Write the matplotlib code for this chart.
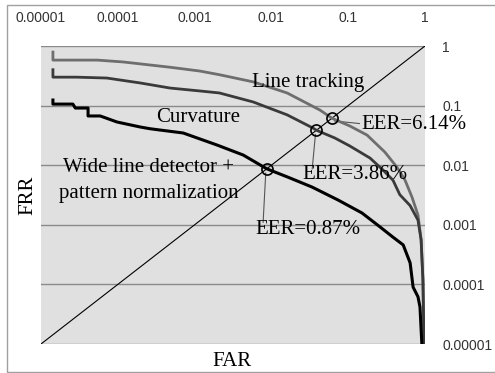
import matplotlib
matplotlib.use("Agg")
import matplotlib.pyplot as plt
from matplotlib.patches import Rectangle

# ROC curves (FAR, FRR)
lt_far = [1.43e-5, 1.43e-5, 5.4e-5, 1.17e-4, 4.8e-4, 1.17e-3, 2.1e-3, 5.8e-3, 0.016, 0.043,
          0.0614, 0.105, 0.176, 0.30, 0.43, 0.55, 0.678, 0.81, 0.89, 0.94, 0.97]
lt_frr = [0.79, 0.58, 0.58, 0.54, 0.44, 0.38, 0.33, 0.25, 0.163, 0.084,
          0.0614, 0.0455, 0.032, 0.0166, 0.0093, 0.0056, 0.0029, 0.00146, 0.00056, 0.000119, 1e-5]

cv_far = [1.43e-5, 1.43e-5, 2.9e-5, 7.2e-5, 1.95e-4, 4.8e-4, 1.17e-3, 2.1e-3, 5.8e-3, 0.016,
          0.0348, 0.0386, 0.067, 0.105, 0.192, 0.284, 0.383, 0.47, 0.64, 0.81, 0.89, 0.94, 0.97]
cv_frr = [0.40, 0.30, 0.30, 0.29, 0.24, 0.197, 0.176, 0.163, 0.115, 0.070,
          0.042, 0.0386, 0.0286, 0.021, 0.0132, 0.0083, 0.0056, 0.0032, 0.0021, 0.0012, 0.00056,
          0.000119, 1e-5]

wl_far = [1.43e-5, 1.43e-5, 2.6e-5, 2.8e-5, 4.1e-5, 4.1e-5, 5.9e-5, 9.8e-5, 1.95e-4, 2.6e-4,
          3.5e-4, 7.1e-4, 1.96e-3, 4.3e-3, 0.0087, 0.0164, 0.0338, 0.074, 0.151, 0.26, 0.383,
          0.52, 0.64, 0.70, 0.81, 0.86, 0.91]
wl_frr = [0.124, 0.106, 0.106, 0.091, 0.091, 0.067, 0.067, 0.053, 0.0438, 0.041,
          0.039, 0.0347, 0.0218, 0.0148, 0.0087, 0.0063, 0.0043, 0.0026, 0.00158, 0.00092, 0.00062,
          0.00046, 0.00023, 9.0e-5, 6.2e-5, 4.2e-5, 1e-5]

eer_vals = [0.0614, 0.0386, 0.0087]
eer_text = ["EER=6.14%", "EER=3.86%", "EER=0.87%"]
decades = [1e-5, 1e-4, 1e-3, 1e-2, 1e-1, 1]
decade_labels = ["0.00001", "0.0001", "0.001", "0.01", "0.1", "1"]

fig = plt.figure(figsize=(4.95, 3.73), dpi=100)
fig.patches.append(Rectangle((7 / 495, 1 / 373), 1.0, 367 / 373, transform=fig.transFigure,
                             fill=False, edgecolor="#a0a0a0", linewidth=1.0))
ax = fig.add_axes([41 / 495, 1 - 344 / 373, 384 / 495, 298 / 373])
ax.set_facecolor("#e0e0e0")
ax.set_xscale("log")
ax.set_yscale("log")
ax.set_xlim(1e-5, 1)
ax.set_ylim(1e-5, 1)
for s in ax.spines.values():
    s.set_visible(False)

for d in decades:
    ax.axhline(d, color="#8a8a8a", linewidth=1.0, zorder=1)

ax.plot([1e-5, 1], [1e-5, 1], color="black", linewidth=0.8, zorder=2)
ax.plot(lt_far, lt_frr, color="#6e6e6e", linewidth=2.0, zorder=3)
ax.plot(cv_far, cv_frr, color="#3a3a3a", linewidth=2.0, zorder=3)
ax.plot(wl_far, wl_frr, color="black", linewidth=2.2, zorder=3)
ax.plot(eer_vals, eer_vals, linestyle="none", marker="o", markersize=8,
        markerfacecolor="none", markeredgecolor="black", markeredgewidth=1.2, zorder=4)

serif = "Liberation Serif"
fs = 15
ax.text(0.03, 0.24, "Line tracking", family=serif, fontsize=fs, ha="center", va="center")
ax.text(0.0011, 0.063, "Curvature", family=serif, fontsize=fs, ha="center", va="center")
ax.text(2.5e-4, 0.0093, "Wide line detector +", family=serif, fontsize=fs, ha="center", va="center")
ax.text(2.5e-4, 0.0034, "pattern normalization", family=serif, fontsize=fs, ha="center", va="center")

# EER labels with leader lines
text_pos = [(0.15, 0.048), (0.025, 0.0071), (0.0062, 0.00084)]
leader_end = [(0.14, 0.05), (0.034, 0.0087), (0.0078, 0.0011)]
for v, t, tp, le in zip(eer_vals, eer_text, text_pos, leader_end):
    ax.plot([v * (1.08 if v > 0.05 else 0.97), le[0]], [v * (0.9 if v > 0.05 else 0.85), le[1]],
            color="#555555", linewidth=0.8, zorder=2)
    ax.text(tp[0], tp[1], t, family=serif, fontsize=fs, ha="left", va="center", zorder=5)

ax.xaxis.tick_top()
ax.yaxis.tick_right()
ax.set_xticks(decades)
ax.set_xticklabels(decade_labels)
ax.set_yticks(decades)
ax.set_yticklabels(decade_labels)
ax.minorticks_off()
ax.tick_params(axis="x", length=0, pad=15, labelsize=10, labelcolor="#333333")
ax.tick_params(axis="y", length=0, pad=12.5, labelsize=10, labelcolor="#333333")
for lab in ax.get_xticklabels() + ax.get_yticklabels():
    lab.set_family("Liberation Sans")

fig.text(28 / 495, 1 - 195 / 373, "FRR", family=serif, fontsize=fs, rotation=90,
         ha="center", va="center")
fig.text(232 / 495, 1 - 362 / 373, "FAR", family=serif, fontsize=fs, ha="center", va="center")

fig.savefig("out.png", dpi=100)
